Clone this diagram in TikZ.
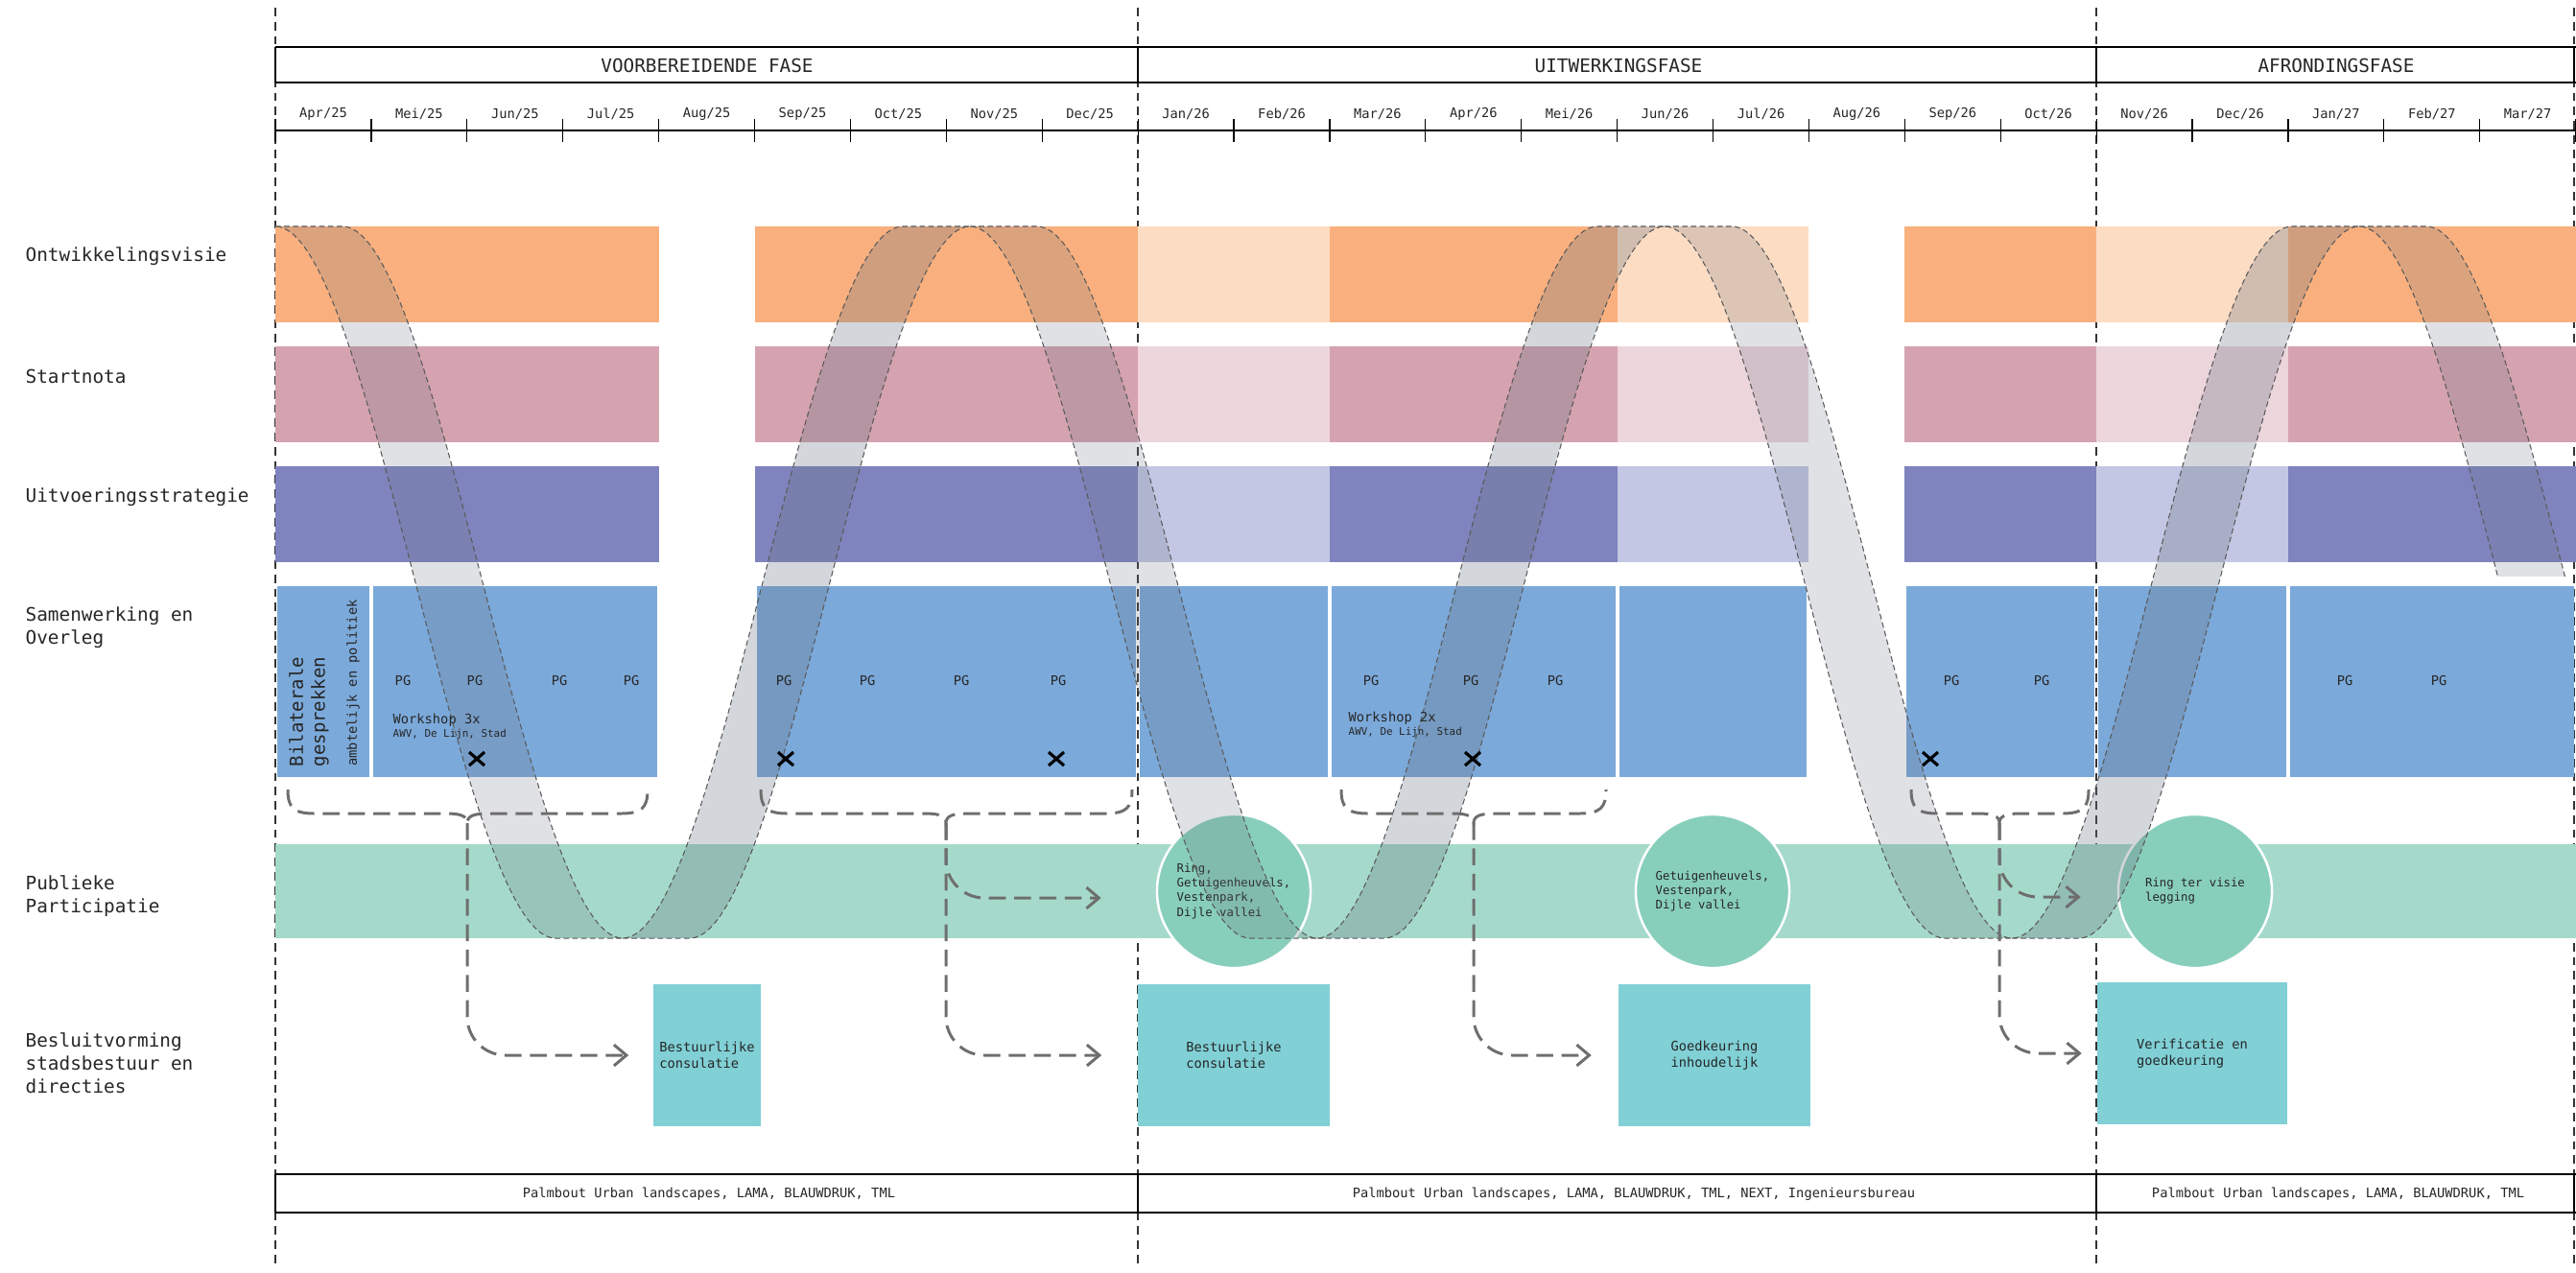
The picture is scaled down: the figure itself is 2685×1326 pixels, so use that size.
\documentclass[tikz,border=0pt]{standalone}
\usepackage{fontspec}
\setmonofont{DejaVu Sans Mono}
\usetikzlibrary{calc, arrows.meta}

\definecolor{orD}{RGB}{249,176,126}
\definecolor{orL}{RGB}{252,220,195}
\definecolor{piD}{RGB}{213,163,175}
\definecolor{piL}{RGB}{237,213,220}
\definecolor{puD}{RGB}{127,132,190}
\definecolor{puL}{RGB}{196,199,228}
\definecolor{blu}{RGB}{123,169,218}
\definecolor{grn}{RGB}{165,218,202}
\definecolor{grnC}{RGB}{136,207,187}
\definecolor{tea}{RGB}{128,208,214}
\definecolor{rib}{RGB}{105,115,130}
\definecolor{arrg}{RGB}{110,110,110}

\begin{document}
\begin{tikzpicture}[x=0.01cm, y=-0.01cm,
    every node/.style={inner sep=0pt, text=black!85},
    rowlbl/.style={anchor=west, align=left, font=\ttfamily\fontsize{5.5}{6.8}\selectfont},
    mon/.style={font=\ttfamily\fontsize{3.9}{4.7}\selectfont},
    phasetxt/.style={font=\ttfamily\fontsize{5.5}{6.6}\selectfont},
    boxtxt/.style={font=\ttfamily\fontsize{3.9}{4.8}\selectfont, align=left},
    subtxt/.style={font=\ttfamily\fontsize{3.1}{3.8}\selectfont},
    circtxt/.style={font=\ttfamily\fontsize{3.5}{4.3}\selectfont, align=left},
    vdash/.style={black!80, line width=0.55pt, dash pattern=on 2.5pt off 1.7pt},
    ribbon/.style={draw=black!65, line width=0.3pt, dash pattern=on 1.6pt off 1pt, fill=rib},
    brc/.style={arrg, line width=0.85pt, dash pattern=on 5pt off 2.5pt},
    arr/.style={brc, rounded corners=0.4cm, -{Straight Barb[length=3.7pt, width=6.2pt, line width=0.85pt]}},
    xmark/.style={line width=0.9pt, black},
    ring/.style={circle, fill=grnC, draw=white, line width=0.7pt, minimum size=1.6cm, circtxt},
    besl/.style={rectangle, fill=tea, minimum height=1.48cm, boxtxt}
]
\useasboundingbox (0,0) rectangle (2685,1326);

% fase lijnen
\foreach \px in {287,1186,2185,2683}
    \draw[vdash] (\px,8) -- (\px,1322);

% fasen
\draw[line width=0.7pt] (287,49) -- (2685,49) (287,86) -- (2685,86);
\foreach \px in {287,1186,2185,2683}
    \draw[line width=0.35pt] (\px,49) -- (\px,86);
\node[phasetxt] (ph1) at (737,68) {VOORBEREIDENDE FASE};
\node[phasetxt] (ph2) at (1687,68) {UITWERKINGSFASE};
\node[phasetxt] (ph3) at (2435,68) {AFRONDINGSFASE};

% maanden
\draw[line width=0.6pt] (287,136) -- (2685,136);
\foreach \k in {0,...,24}
    \draw[line width=0.35pt] (287+99.9*\k,124) -- ++(0,24);
\foreach \mo/\yr [count=\k from 0] in {Apr/25,Mei/25,Jun/25,Jul/25,Aug/25,Sep/25,Oct/25,Nov/25,Dec/25,
    Jan/26,Feb/26,Mar/26,Apr/26,Mei/26,Jun/26,Jul/26,Aug/26,Sep/26,Oct/26,
    Nov/26,Dec/26,Jan/27,Feb/27,Mar/27}
    \node[mon] (m\k) at (337+99.9*\k,119) {\mo/\yr};

% sporen
\node[rowlbl] (lOntw) at (26,267) {Ontwikkelingsvisie};
\node[rowlbl] (lStart) at (26,392) {Startnota};
\node[rowlbl] (lUitv) at (26,518) {Uitvoeringsstrategie};
\node[rowlbl] (lSamen) at (26,654) {Samenwerking en\\Overleg};
\node[rowlbl] (lPubl) at (26,934) {Publieke\\Participatie};
\node[rowlbl] (lBesl) at (26,1108) {Besluitvorming\\stadsbestuur en\\directies};

\foreach \yt/\dk/\lt in {236/orD/orL, 361/piD/piL, 486/puD/puL} {
    \foreach \a/\b in {0/4,5/9,11/14,17/19,21/24}
        \fill[\dk] (287+99.9*\a,\yt) rectangle (287+99.9*\b,\yt+100);
    \foreach \a/\b in {9/11,14/16,19/21}
        \fill[\lt] (287+99.9*\a,\yt) rectangle (287+99.9*\b,\yt+100);
}
\foreach \a/\b in {0/1,1/4,5/9,9/11,11/14,14/16,17/19,19/21,21/24}
    \fill[blu] (289+99.9*\a,611) rectangle (285+99.9*\b,810);
\fill[grn] (287,880) rectangle (2685,978);

% participatie en besluitvorming
\node[ring] (ring1) at (1286,929) {Ring,\\Getuigenheuvels,\\Vestenpark,\\Dijle vallei};
\node[ring] (ring2) at (1785,929) {Getuigenheuvels,\\Vestenpark,\\Dijle vallei};
\node[ring] (ring3) at (2288,929) {Ring ter visie\\legging};

\node[besl, minimum width=1.12cm] (besl1) at (737,1100) {Bestuurlijke\\consulatie};
\node[besl, minimum width=2cm] (besl2) at (1286,1100) {Bestuurlijke\\consulatie};
\node[besl, minimum width=1.99cm] (besl3) at (1787,1100) {Goedkeuring\\inhoudelijk};
\node[besl, minimum width=1.97cm] (besl4) at (2285,1098) {Verificatie en\\goedkeuring};

% lint
\foreach \x in {287,1011,1735}
    \filldraw[ribbon, fill opacity=0.21] (\x,236) -- (\x+70,236)
        .. controls +(100,0) and +(-100,0) .. (\x+362,978) -- (\x+292,978)
        .. controls +(-100,0) and +(100,0) .. (\x,236) -- cycle;
\foreach \x in {649,1373,2097}
    \filldraw[ribbon, fill opacity=0.29] (\x,978) -- (\x+70,978)
        .. controls +(100,0) and +(-100,0) .. (\x+362,236) -- (\x+292,236)
        .. controls +(-100,0) and +(100,0) .. (\x,978) -- cycle;
\begin{scope}
    \clip (2400,200) rectangle (2685,600);
    \filldraw[ribbon, fill opacity=0.21] (2459,236) -- (2529,236)
        .. controls +(100,0) and +(-100,0) .. (2821,978) -- (2751,978)
        .. controls +(-100,0) and +(100,0) .. (2459,236) -- cycle;
\end{scope}

% overleg
\node[rotate=90, align=left, font=\ttfamily\fontsize{5.4}{6.5}\selectfont] (bil) at (322,742) {Bilaterale\\gesprekken};
\node[rotate=90, font=\ttfamily\fontsize{3.9}{4.7}\selectfont] (amb) at (368,712) {ambtelijk en politiek};

\foreach \px in {420,495,583,658,817,904,1002,1103,1429,1533,1621,2034,2128,2444,2542}
    \node[boxtxt] (pg\px) at (\px,709) {PG};

\node[boxtxt, anchor=west] (ws1) at (409,751) {Workshop 3x};
\node[subtxt, anchor=west] (aw1) at (409,765) {AWV, De Lijn, Stad};
\node[boxtxt, anchor=west] (ws2) at (1405,749) {Workshop 2x};
\node[subtxt, anchor=west] (aw2) at (1405,763) {AWV, De Lijn, Stad};

\foreach \xx in {497,819,1101,1535,2012}
    \draw[xmark] (\xx-8,784) -- (\xx+8,798) (\xx-8,798) -- (\xx+8,784);

% accolades en pijlen
\foreach \l/\m/\r [count=\i] in {300/487/675, 793/986/1180, 1398/1536/1674, 1992/2084/2177} {
    \draw[brc] (\l,823) .. controls (\l,842) and (\l+6,848) .. (\l+28,848) -- (\m-22,848)
        .. controls (\m-6,848) and (\m,851) .. (\m,858)
        .. controls (\m,851) and (\m+6,848) .. (\m+22,848) -- (\r-28,848)
        .. controls (\r-6,848) and (\r,842) .. (\r,823);
    \coordinate (tip\i) at (\m,858);
}
\draw[arr] (tip1) |- ($(besl1.west)+(-25,0)$);
\draw[arr] (tip2) |- ($(ring1.west)+(-57,7)$);
\draw[arr] (tip2) |- ($(besl2.west)+(-37,0)$);
\draw[arr] (tip3) |- ($(besl3.west)+(-28,0)$);
\draw[arr] (tip4) |- ($(ring3.west)+(-38,6)$);
\draw[arr] (tip4) |- ($(besl4.west)+(-16,0)$);

% partners
\draw[line width=0.7pt] (287,1224) -- (2685,1224) (287,1264) -- (2685,1264);
\foreach \px in {287,1186,2185,2683}
    \draw[line width=0.35pt] (\px,1224) -- (\px,1264);
\node[mon] (pt1) at (739,1245) {Palmbout Urban landscapes, LAMA, BLAUWDRUK, TML};
\node[mon] (pt2) at (1703,1245) {Palmbout Urban landscapes, LAMA, BLAUWDRUK, TML, NEXT, Ingenieursbureau};
\node[mon] (pt3) at (2437,1245) {Palmbout Urban landscapes, LAMA, BLAUWDRUK, TML};
\end{tikzpicture}
\end{document}
